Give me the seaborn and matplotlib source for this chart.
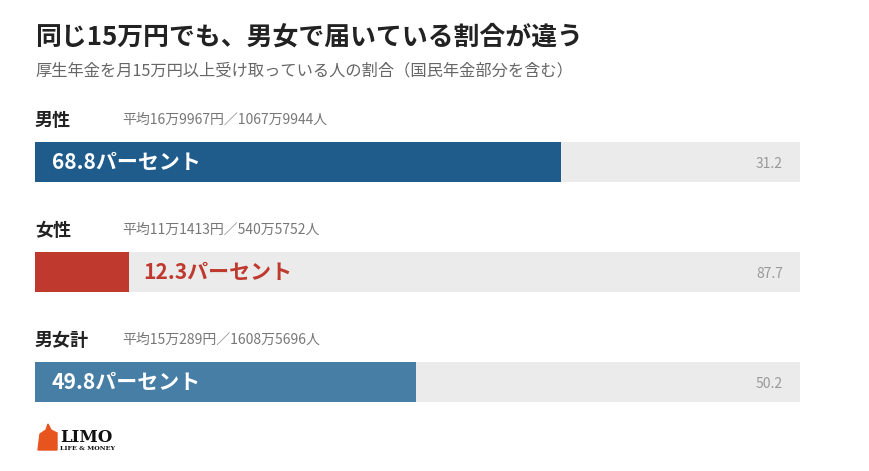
import matplotlib.pyplot as plt
import matplotlib as mpl
import numpy as np
import pandas as pd
import seaborn as sns
from matplotlib.patches import Polygon

sns.set_theme(style="white")
mpl.rcParams["font.family"] = ["Noto Sans CJK JP", "DejaVu Sans"]

# データ
groups = ["男性", "女性", "男女計"]
shares = [68.8, 12.3, 49.8]
details = ["平均16万9967円／1067万9944人",
           "平均11万1413円／540万5752人",
           "平均15万289円／1608万5696人"]
bar_colors = ["#1f5b8b", "#c0392f", "#477ea6"]

title = "同じ15万円でも、男女で届いている割合が違う"
subtitle = "厚生年金を月15万円以上受け取っている人の割合（国民年金部分を含む）"

W, H = 870, 471
fig = plt.figure(figsize=(W / 100, H / 100), dpi=100)

# 棒グラフ用の軸（ピクセル位置から算出）
left_px, right_px = 35, 800
top_px, bot_px = 107, 437
ax = fig.add_axes([left_px / W, 1 - bot_px / H,
                   (right_px - left_px) / W, (bot_px - top_px) / H])

df = pd.DataFrame({"group": groups, "share": shares})
bar_h = 40 / 110

# 背景の灰色バー（100%）
ax.barh(np.arange(len(groups)), [100] * len(groups), height=bar_h,
        color="#ebebeb", linewidth=0, zorder=1)
sns.barplot(data=df, x="share", y="group", hue="group", palette=bar_colors,
            orient="h", width=bar_h, ax=ax, legend=False, zorder=2,
            saturation=1, linewidth=0)

ax.set_xlim(0, 100)
ax.set_ylim(2.5, -0.5)
ax.axis("off")

px = 100 / (right_px - left_px)  # 1ピクセルあたりのデータ単位
for i, (g, s, d, c) in enumerate(zip(groups, shares, details, bar_colors)):
    ax.text(0, i - 0.38, g, fontsize=13, fontweight="bold", color="#222222",
            ha="left", va="center")
    ax.text(87 * px, i - 0.38, d, fontsize=10, color="#777777",
            ha="left", va="center")
    label = f"{s}パーセント"
    if s < 20:
        ax.text(s + 14 * px, i, label, fontsize=15.1, fontweight="bold",
                color=c, ha="left", va="center", zorder=3)
    else:
        ax.text(17 * px, i, label, fontsize=15.1, fontweight="bold",
                color="white", ha="left", va="center", zorder=3)
    ax.text(100 - 17 * px, i + 0.02, f"{100 - s:.1f}", fontsize=10,
            color="#999999", ha="right", va="center", zorder=3)

# タイトル
fig.text(35 / W, 1 - 37 / H, title, fontsize=18.6, fontweight="bold",
         color="#222222", ha="left", va="center")
fig.text(35 / W, 1 - 71 / H, subtitle, fontsize=11.7, color="#666666",
         ha="left", va="center")

# ロゴ
logo = Polygon([(38 / W, 1 - 450 / H), (40 / W, 1 - 434 / H),
                (46 / W, 1 - 430 / H), (48 / W, 1 - 424 / H),
                (51 / W, 1 - 430 / H), (57 / W, 1 - 433 / H),
                (57 / W, 1 - 450 / H)],
               closed=True, transform=fig.transFigure, color="#e8541e")
fig.patches.append(logo)
fig.text(60 / W, 1 - 437 / H, "LIMO", fontsize=12, fontweight="bold",
         family="DejaVu Serif", color="#111111", ha="left", va="center")
fig.text(60 / W, 1 - 448 / H, "LIFE & MONEY", fontsize=4.6, fontweight="bold",
         family="DejaVu Serif", color="#111111", ha="left", va="center")

fig.savefig("out.png", dpi=100)
